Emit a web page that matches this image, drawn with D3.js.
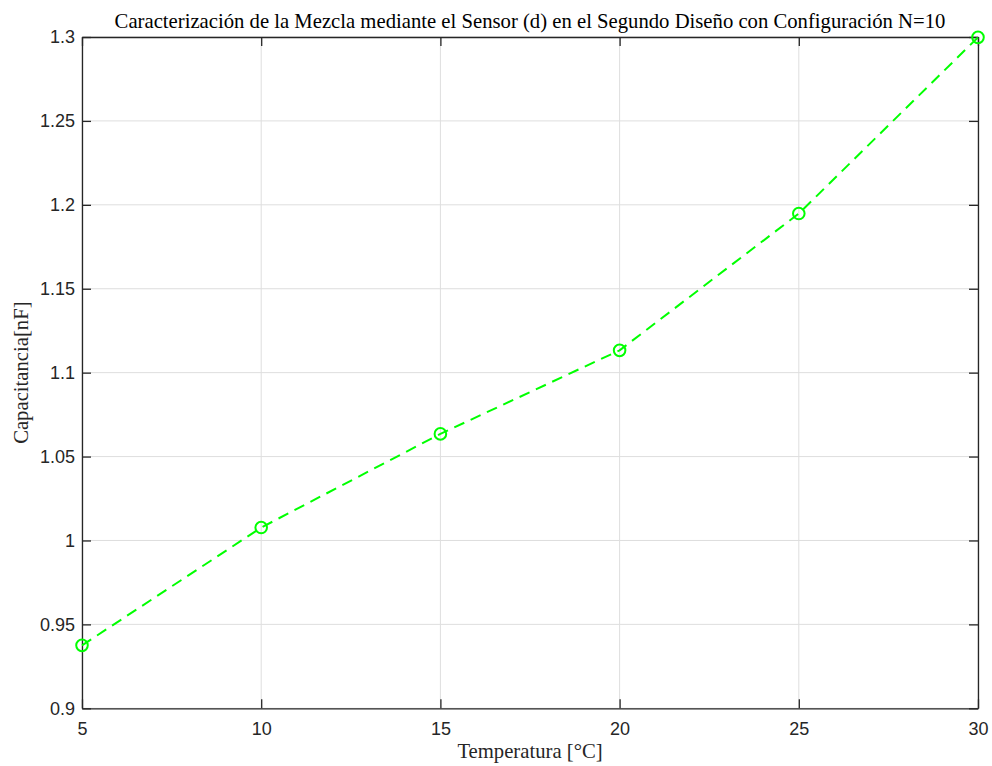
<!DOCTYPE html>
<html>
<head>
<meta charset="utf-8">
<script src="https://cdn.jsdelivr.net/npm/d3@7"></script>
<style>
  html, body { margin: 0; padding: 0; background: #fff; }
  svg { display: block; }
</style>
</head>
<body>
<svg id="chart" width="992" height="766"></svg>
<script>
// Temperature (°C) vs. measured capacitance (nF)
const temperatures = [5, 10, 15, 20, 25, 30];
const capacitance = [0.9375, 1.0077, 1.0635, 1.1133, 1.1948, 1.2998];
const xTicks = [5, 10, 15, 20, 25, 30];
const yTicks = [0.9, 0.95, 1, 1.05, 1.1, 1.15, 1.2, 1.25, 1.3];

const titleText = "Caracterización de la Mezcla mediante el Sensor (d) en el Segundo Diseño con Configuración N=10";
const xLabel = "Temperatura [°C]";
const yLabel = "Capacitancia[nF]";

const W = 992, H = 766;
const margin = { left: 82, right: 14, top: 37, bottom: 57.7 };
const plotW = W - margin.left - margin.right;
const plotH = H - margin.top - margin.bottom;

const svg = d3.select("#chart");
const g = svg.append("g").attr("transform", `translate(${margin.left},${margin.top})`);

const x = d3.scaleLinear().domain([5, 30]).range([0, plotW]);
const y = d3.scaleLinear().domain([0.9, 1.3]).range([plotH, 0]);

const axisColor = "#262626";
const sansFont = "Arial, 'Liberation Sans', Helvetica, sans-serif";
const serifFont = "'Times New Roman', 'Liberation Serif', serif";

// grid
g.append("g").selectAll("line").data(xTicks).join("line")
  .attr("x1", d => x(d)).attr("x2", d => x(d))
  .attr("y1", 0).attr("y2", plotH)
  .attr("stroke", "#dedede").attr("stroke-width", 1);
g.append("g").selectAll("line").data(yTicks).join("line")
  .attr("y1", d => y(d)).attr("y2", d => y(d))
  .attr("x1", 0).attr("x2", plotW)
  .attr("stroke", "#dedede").attr("stroke-width", 1);

// axes with inward ticks
const fmtY = d => d3.format("")(+d.toFixed(2));
const bottomAxis = d3.axisBottom(x).tickValues(xTicks).tickSizeInner(-9).tickSizeOuter(0);
const leftAxis = d3.axisLeft(y).tickValues(yTicks).tickFormat(fmtY).tickSizeInner(-9).tickSizeOuter(0);
const topAxis = d3.axisTop(x).tickValues(xTicks).tickSizeInner(-9).tickSizeOuter(0).tickFormat("");
const rightAxis = d3.axisRight(y).tickValues(yTicks).tickSizeInner(-9).tickSizeOuter(0).tickFormat("");

function styleAxis(sel) {
  sel.select(".domain").attr("stroke", axisColor).attr("stroke-width", 1.3);
  sel.selectAll(".tick line").attr("stroke", axisColor).attr("stroke-width", 1.3);
  sel.selectAll(".tick text").attr("fill", axisColor)
    .style("font-family", sansFont).style("font-size", "18px");
}

g.append("g").attr("transform", `translate(0,${plotH})`).call(bottomAxis).call(styleAxis)
  .selectAll(".tick text").attr("dy", "0.71em").attr("y", 13.5);
g.append("g").call(leftAxis).call(styleAxis)
  .selectAll(".tick text").attr("x", -7);
g.append("g").call(topAxis).call(styleAxis);
g.append("g").attr("transform", `translate(${plotW},0)`).call(rightAxis).call(styleAxis);

// data line
const pts = temperatures.map((t, i) => [t, capacitance[i]]);
const line = d3.line().x(d => x(d[0])).y(d => y(d[1]));
g.append("path").datum(pts)
  .attr("d", line)
  .attr("fill", "none")
  .attr("stroke", "#00ff00")
  .attr("stroke-width", 2)
  .attr("stroke-dasharray", "11,7");

g.append("g").selectAll("circle").data(pts).join("circle")
  .attr("cx", d => x(d[0])).attr("cy", d => y(d[1]))
  .attr("r", 5.8)
  .attr("fill", "none")
  .attr("stroke", "#00ff00")
  .attr("stroke-width", 2);

// title and axis labels
svg.append("text")
  .attr("x", margin.left + plotW / 2).attr("y", 28)
  .attr("text-anchor", "middle")
  .attr("fill", "#000")
  .style("font-family", serifFont).style("font-size", "20.7px")
  .text(titleText);

svg.append("text")
  .attr("x", margin.left + plotW / 2).attr("y", 758)
  .attr("text-anchor", "middle")
  .attr("fill", axisColor)
  .style("font-family", serifFont).style("font-size", "20.7px")
  .text(xLabel);

svg.append("text")
  .attr("transform", `translate(28,${margin.top + plotH / 2}) rotate(-90)`)
  .attr("text-anchor", "middle")
  .attr("fill", axisColor)
  .style("font-family", serifFont).style("font-size", "20.7px")
  .text(yLabel);
</script>
</body>
</html>
